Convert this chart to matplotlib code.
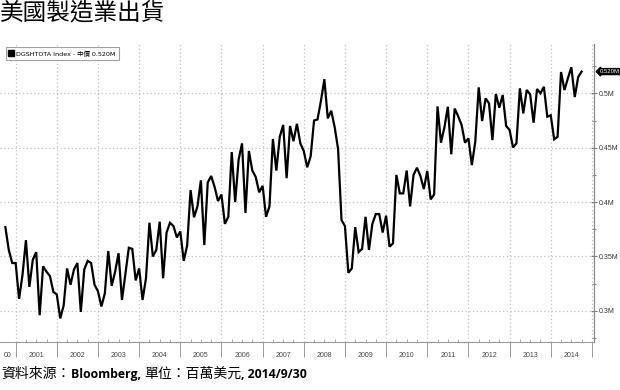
import matplotlib
matplotlib.use("Agg")
import matplotlib.pyplot as plt
from matplotlib.lines import Line2D
import numpy as np

plt.rcParams['font.family'] = ['DejaVu Sans', 'Noto Sans CJK TC']

# ---- data (monthly, starting Oct 2000), millions USD shown as M ----
start_year = 2000
start_month = 10
shipments = [
    0.377, 0.356, 0.344,
    0.344, 0.311, 0.333, 0.365, 0.322, 0.347, 0.354, 0.296, 0.341, 0.336, 0.332, 0.3175,
    0.315, 0.293, 0.305, 0.339, 0.324, 0.338, 0.344, 0.299, 0.338, 0.346, 0.344, 0.324,
    0.318, 0.304, 0.316, 0.355, 0.323, 0.336, 0.353, 0.310, 0.334, 0.358, 0.357, 0.328,
    0.339, 0.310, 0.330, 0.381, 0.350, 0.356, 0.382, 0.330, 0.372, 0.381, 0.378, 0.3675,
    0.373, 0.346, 0.360, 0.411, 0.386, 0.396, 0.420, 0.3605, 0.418, 0.424, 0.414, 0.401,
    0.407, 0.380, 0.3865, 0.446, 0.400, 0.439, 0.454, 0.390, 0.447, 0.429, 0.423, 0.409,
    0.415, 0.3865, 0.396, 0.458, 0.429, 0.460, 0.471, 0.422, 0.470, 0.456, 0.472, 0.454,
    0.447, 0.432, 0.442, 0.475, 0.476, 0.493, 0.513, 0.477, 0.484, 0.469, 0.449, 0.3835,
    0.378, 0.335, 0.339, 0.377, 0.354, 0.357, 0.3865, 0.356, 0.380, 0.389, 0.389, 0.372,
    0.3875, 0.359, 0.362, 0.425, 0.408, 0.408, 0.429, 0.396, 0.425, 0.4316, 0.424, 0.412,
    0.4286, 0.4025, 0.407, 0.488, 0.4546, 0.4687, 0.4877, 0.444, 0.486, 0.479, 0.471, 0.4546,
    0.4586, 0.434, 0.4555, 0.5055, 0.4745, 0.4954, 0.4908, 0.457, 0.4994, 0.4868, 0.4985, 0.470,
    0.4663, 0.4503, 0.454, 0.5046, 0.4816, 0.5031, 0.499, 0.473, 0.504, 0.500, 0.506, 0.4785,
    0.4798, 0.4577, 0.4601, 0.5196, 0.503, 0.5138, 0.524, 0.4966, 0.515, 0.520,
]
year_labels = ["00", "2001", "2002", "2003", "2004", "2005", "2006", "2007",
               "2008", "2009", "2010", "2011", "2012", "2013", "2014"]
y_ticks = [0.3, 0.35, 0.4, 0.45, 0.5]
y_tick_labels = ["0.3M", "0.35M", "0.4M", "0.45M", "0.5M"]
last_label = "0.520M"
legend_label = "DGSHTOTA Index - 中價 0.520M"
title = "美國製造業出貨"
footer_parts = ["資料來源：", "Bloomberg, ", "單位：百萬美元", ", 2014/9/30"]
footer_bold = [False, True, False, True]

# ---- positions ----
months = np.arange(len(shipments))
xpos = start_year + (start_month - 1 + months) / 12.0

fig = plt.figure(figsize=(6.2, 3.9), dpi=100)
ax = fig.add_axes([0.0, 0.124, 0.958, 0.763])

x_left, x_right = 2000.62, 2015.05
ax.set_xlim(x_left, x_right)
ax.set_ylim(0.2717, 0.5453)

ax.plot(xpos, shipments, color='black', lw=1.6, solid_joinstyle='miter', zorder=3)

grid_col = '#c4c4c4'
ax.set_xticks(np.arange(2001, 2016))
ax.set_xticks(np.arange(2001, 2015.01, 0.25), minor=True)
ax.set_yticks(y_ticks)
ax.set_yticks(np.arange(0.275, 0.5451, 0.025), minor=True)
ax.grid(True, which='major', axis='both', color=grid_col, linestyle=(0, (1, 2)), lw=0.9)

ax.xaxis.set_ticklabels([])
ax.tick_params(axis='x', which='major', direction='out', length=10.5, width=0.7, color='#999999')
ax.tick_params(axis='x', which='minor', direction='in', length=2.5, width=0.6, color='#999999')

ax.yaxis.tick_right()
ax.set_yticklabels(y_tick_labels, family=['Liberation Sans'])
ax.tick_params(axis='y', which='major', direction='inout', length=4, width=0.7, color='#777777',
               labelsize=5.0, labelcolor='#333333', pad=1.5)
ax.tick_params(axis='y', which='minor', direction='inout', length=3, width=0.6, color='#777777')

for s in ['left', 'top']:
    ax.spines[s].set_visible(False)
ax.spines['right'].set_color('#888888')
ax.spines['right'].set_linewidth(0.9)
ax.spines['bottom'].set_color('#999999')
ax.spines['bottom'].set_linewidth(0.8)

# year labels centred in each year span
bounds = [x_left] + list(range(2001, 2015)) + [2015]
for i, lab in enumerate(year_labels):
    mid = (bounds[i] + bounds[i + 1]) / 2
    ax.text(mid, -0.045, lab, transform=ax.get_xaxis_transform(), ha='center', va='center',
            fontsize=5.0, color='#444444', family=['Liberation Sans'])

# last value tag
ax.text(1.009, shipments[-1], last_label, transform=ax.get_yaxis_transform(),
        ha='left', va='center', fontsize=4.3, color='white', family=['Liberation Sans'],
        bbox=dict(boxstyle='larrow,pad=0.08', fc='black', ec='black'))

# legend
handle = Line2D([], [], marker='s', color='black', linestyle='None', markersize=4)
leg = ax.legend([handle], [legend_label], loc='upper left', bbox_to_anchor=(0.008, 0.995),
                fontsize=4.6, frameon=True, fancybox=False, handlelength=0.6, handletextpad=0.4,
                borderpad=0.55, borderaxespad=0.2)
leg.get_frame().set_edgecolor('#888888')
leg.get_frame().set_linewidth(0.8)

# title
fig.text(0.0, 0.995, title, ha='left', va='top', fontsize=17,
         family=['Noto Sans CJK TC'], color='black')

# footer in pieces, chained left to right
prev = fig.text(0.002, 0.032, footer_parts[0], ha='left', va='baseline', fontsize=10,
                family=['Noto Sans CJK TC'], color='black')
for txt, b in zip(footer_parts[1:], footer_bold[1:]):
    fam = ['Open Sans', 'Noto Sans CJK TC'] if b else ['Noto Sans CJK TC']
    prev = ax.annotate(txt, xy=(1, 0), xycoords=prev, ha='left', va='bottom',
                       fontsize=8.8 if b else 10, family=fam,
                       weight='bold' if b else 'normal',
                       color='black', annotation_clip=False)

fig.savefig("out.png", dpi=100)
